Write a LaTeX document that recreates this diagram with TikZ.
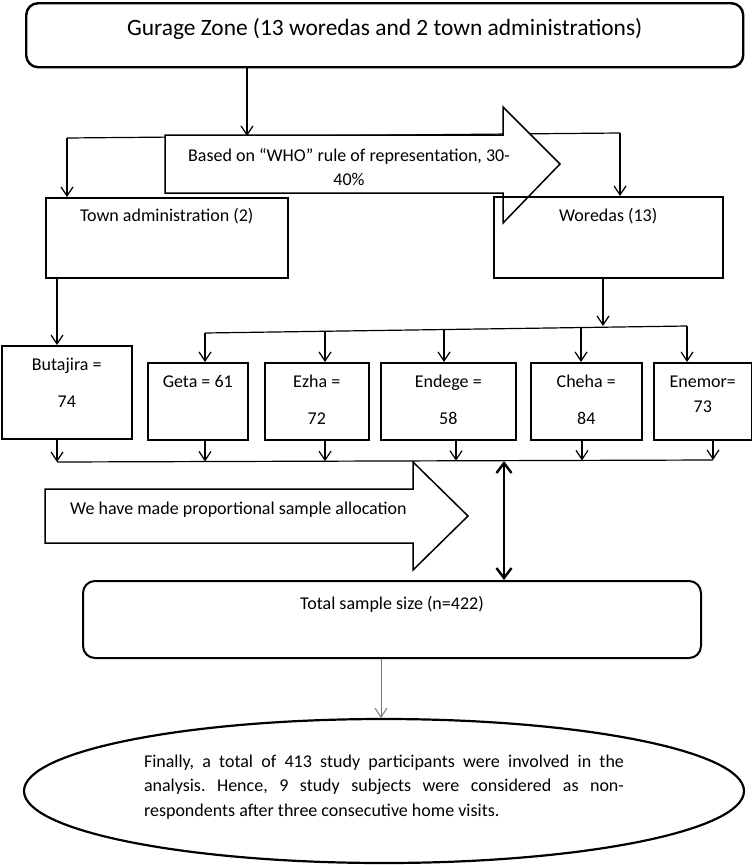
\documentclass[tikz,border=0pt]{standalone}
\usepackage{fontspec}
\setmainfont{Carlito}
\usetikzlibrary{arrows.meta,shapes.geometric,backgrounds}
\frenchspacing
\newcommand{\bxt}[4]{\parbox[c][#2pt][t]{#1pt}{\centering\rule{0pt}{#3pt}#4}}
\tikzset{
  box/.style={draw, line width=1.5pt, inner sep=0pt, anchor=north west, font=\fontsize{18}{24.5}\selectfont},
  rbox/.style={box, rounded corners=12pt, line width=2pt},
  arr/.style={-{Straight Barb[length=9pt,width=12pt]}, line width=1.2pt},
  dbl/.style={{Straight Barb[length=10pt,width=15pt]}-{Straight Barb[length=10pt,width=15pt]}, line width=2.4pt},
  bigarrow/.style={draw, fill=white, line width=1.5pt, line join=miter},
  txt/.style={inner sep=0pt, font=\fontsize{18}{24.5}\selectfont}
}
\begin{document}
\begin{tikzpicture}[x=1pt, y=-1pt]
\useasboundingbox (0,0) rectangle (752,865);

% boxes
\node[rbox, line width=2.4pt, font=\fontsize{23.4}{28}\selectfont] (top) at (25,2) {\bxt{717}{64}{32.5}{Gurage Zone (13 woredas and 2 town administrations)}};
\node[box] (town) at (45,197) {\bxt{242}{80}{24}{Town administration (2)}};
\node[box] (wor) at (493,196) {\bxt{229}{81}{25}{Woredas (13)}};
\node[box] (but) at (1,345) {\bxt{130}{93}{25}{Butajira =\\[12.5pt]74}};
\node[box] (geta) at (147,362) {\bxt{100}{77}{25}{Geta = 61}};
\node[box] (ezha) at (264,362) {\bxt{104}{77}{25}{Ezha =\\[12.5pt]72}};
\node[box] (endege) at (380,362) {\bxt{135}{77}{25}{Endege =\\[12.5pt]58}};
\node[box] (cheha) at (530,362) {\bxt{111}{77}{25}{Cheha =\\[12.5pt]84}};
\node[box] (enemor) at (653,362) {\bxt{98}{77}{25}{Enemor=\\73}};
\node[rbox] (total) at (82,580) {\bxt{618}{77}{28}{Total sample size (n=422)}};
\node[draw, ellipse, line width=2.2pt, minimum width=720pt, minimum height=144pt, inner sep=0pt] (ell) at (384,791) {};
\node[txt, anchor=north] (elltxt) at (384,749) {\parbox[t]{480pt}{\rule{0pt}{18pt}Finally, a total of 413 study participants were involved in the\linebreak analysis. Hence, 9 study subjects were considered as non-\linebreak respondents after three consecutive home visits.}};

% coordinates
\coordinate (s1) at (247,136);
\coordinate (s1L) at (67,138);
\coordinate (s1R) at (620,133);
\coordinate (xa) at (57,0);
\coordinate (xw) at (603,326);
\coordinate (s2L) at (205,333);
\coordinate (a2) at (325,331.3);
\coordinate (a3) at (444,329.5);
\coordinate (a4) at (581,327.5);
\coordinate (s2R) at (687,326);
\coordinate (b1) at (57,462);
\coordinate (b2) at (205,461.5);
\coordinate (b3) at (325,461.2);
\coordinate (b4) at (456,460.8);
\coordinate (b5) at (582,460.4);
\coordinate (b6) at (713,460);
\coordinate (dx) at (504,461);
\coordinate (gx) at (381,0);

\begin{scope}[on background layer]
\fill[white] (0,0) rectangle (752,865);
% connectors
\draw[arr] (top.south -| s1) -- (s1);
\draw[line width=1.2pt] (s1L) -- (s1R);
\draw[arr] (s1L) -- (town.north -| s1L);
\draw[arr] (s1R) -- (wor.north -| s1R);
\draw[arr] (town.south -| xa) -- (but.north -| xa);
\draw[arr] (wor.south -| xw) -- (xw);
\draw[line width=1.2pt] (s2L) -- (s2R);
\draw[arr] (s2L) -- (geta.north -| s2L);
\draw[arr] (a2) -- (ezha.north -| a2);
\draw[arr] (a3) -- (endege.north -| a3);
\draw[arr] (a4) -- (cheha.north -| a4);
\draw[arr] (s2R) -- (enemor.north -| s2R);
\draw[line width=1.2pt] (b1) -- (b6);
\draw[arr] (but.south -| b1) -- (b1);
\draw[arr] (geta.south -| b2) -- (b2);
\draw[arr] (ezha.south -| b3) -- (b3);
\draw[arr] (endege.south -| b4) -- (b4);
\draw[arr] (cheha.south -| b5) -- (b5);
\draw[arr] (enemor.south -| b6) -- (b6);
\draw[dbl] (dx) -- (total.north -| dx);
\draw[arr, line width=0.9pt, draw=black!55] (total.south -| gx) -- (ell.north -| gx);
% big arrows
\draw[bigarrow] (165,135) -- (503,135) -- (503,107) -- (560,164) -- (503,223) -- (503,193) -- (165,193) -- cycle;
\draw[bigarrow] (45,489) -- (413,489) -- (413,462) -- (468,516) -- (413,570) -- (413,543) -- (45,543) -- cycle;
\end{scope}

\node[txt, anchor=north] (who) at (349,143) {\parbox[t]{340pt}{\centering\rule{0pt}{18pt}Based on “WHO” rule of representation, 30-\\40\%}};
\node[txt, anchor=base west] (alloc) at (70,514) {We have made proportional sample allocation};
\end{tikzpicture}
\end{document}
